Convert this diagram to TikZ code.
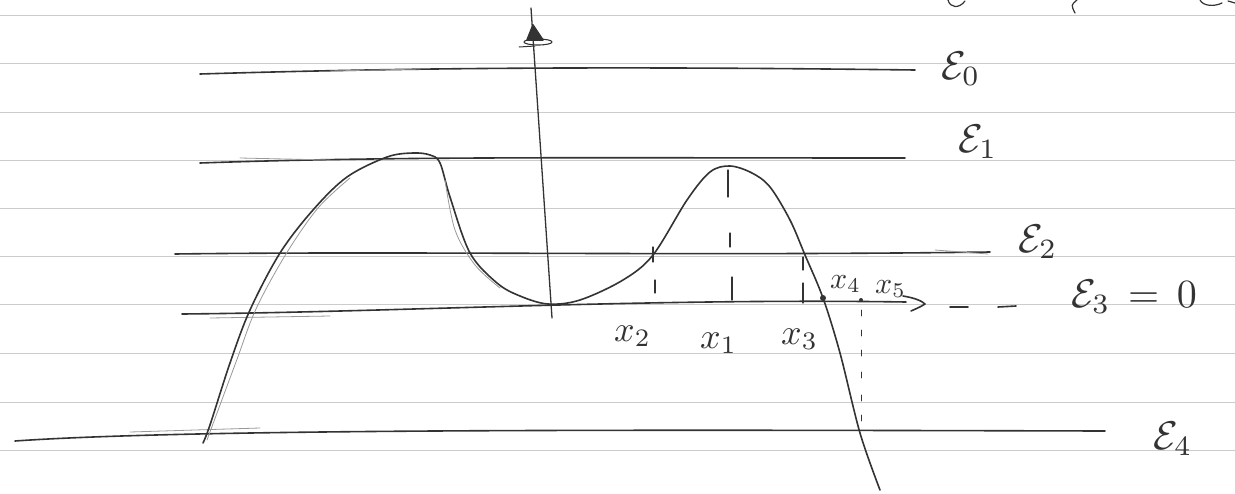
\documentclass[tikz,border=0pt]{standalone}
\usepackage{graphicx}
\definecolor{pen}{HTML}{333333}
\definecolor{rulegray}{HTML}{CCCCCC}
\newcommand{\bigtxt}[2]{\scalebox{#1}{#2}}
\begin{document}
\begin{tikzpicture}[x=1pt,y=-1pt,
  pencil/.style={draw=pen, line width=1.6pt, line cap=round, line join=round},
  faint/.style={draw=pen!50, line width=0.8pt, line cap=round},
  ruled/.style={draw=rulegray, line width=0.8pt},
  tickmark/.style={draw=pen, line width=1.2pt, line cap=round},
  lbl/.style={inner sep=0pt, anchor=base west, text=pen},
  dotmark/.style={circle, fill=pen, inner sep=0pt, minimum size=6pt}]
\useasboundingbox (0,0) rectangle (1235,493);
\fill[white] (0,0) rectangle (1235,493);
% ruled paper
\foreach \y in {15,63,112,160,208,256,304,353,402,450} \draw[ruled] (0,\y) -- (1235,\y);
% cut-off writing at the top edge
\draw[pencil,line width=1.2pt] (948,0) .. controls (950,8) and (959,9) .. (965,1);
\draw[pencil,line width=1.2pt] (1077,0) .. controls (1071,5) .. (1075,13);
\draw[pencil,line width=1.2pt] (1200,0) .. controls (1203,6) and (1214,7) .. (1222,3);
\draw[pencil,line width=1.2pt] (1228,1) -- (1235,3);

% energy levels
\coordinate (e0l) at (200,74); \coordinate (e0r) at (915,70);
\coordinate (e1l) at (200,163); \coordinate (e1r) at (905,158);
\coordinate (e2l) at (175,254); \coordinate (e2r) at (990,252);
\coordinate (e3l) at (182,314); \coordinate (e3r) at (906,302);
\coordinate (e4l) at (15,441); \coordinate (e4r) at (1105,431);
\draw[pencil] (e0l) .. controls (400,68) and (600,66) .. (e0r);
\draw[pencil] (e1l) .. controls (400,156) and (600,158) .. (e1r);
\draw[pencil] (e2l) .. controls (400,251) and (700,256) .. (e2r);
\draw[pencil] (e3l) .. controls (400,312) and (650,298) .. (e3r);
\draw[pencil] (e4l) .. controls (200,428) and (700,430) .. (e4r);
% doubled pencil strokes
\draw[faint] (330,71) -- (420,69);
\draw[faint] (240,158) -- (330,160);
\draw[faint] (935,250) -- (988,254);
\draw[faint] (210,318) -- (330,316);
\draw[faint] (130,432) -- (260,428);
% arrow hook and dashes after E3
\draw[pencil] (903,296) .. controls (915,298) and (922,301) .. (925,304) .. controls (920,307) .. (911,311);
\draw[pencil] (950,307) -- (968,307);
\draw[pencil] (998,307) -- (1016,306);

% vertical axis with arrow
\coordinate (axb) at (552,318); \coordinate (axt) at (531,8);
\draw[pencil,line width=1.3pt] (axb) -- (axt);
\draw[pencil,fill=pen] (533,25) -- (527,40) -- (543,40) -- cycle;
\draw[pencil,line width=1.1pt] (538,42) ellipse [x radius=14, y radius=3];
\draw[pencil,line width=1pt] (519,47) -- (535,46);

% potential curve
\draw[pencil] plot[smooth, tension=0.55] coordinates {
 (203,443) (210,425) (230,363) (250,310) (280,253) (313,210) (347,177)
 (387,157) (413,153) (430,155) (440,163) (450,197) (470,253) (497,283)
 (520,296) (548,304) (580,300) (623,280) (653,255) (687,200) (710,172)
 (730,166) (752,173) (770,187) (790,220) (805,255) (823,298) (840,353)
 (860,433) (880,490)};
\draw[faint] plot[smooth, tension=0.55] coordinates {
 (207,440) (236,362) (256,309) (286,254) (318,208) (350,178)};
\draw[faint] plot[smooth, tension=0.55] coordinates {
 (445,180) (455,230) (475,265) (500,288)};

% x-tick marks
\draw[tickmark] (653,247) -- (653,262);
\draw[tickmark] (655,280) -- (655,293);
\draw[tickmark] (728,170) -- (728,197);
\draw[tickmark] (730,233) -- (730,247);
\draw[tickmark] (732,277) -- (732,300);
\draw[tickmark] (803,257) -- (803,270);
\draw[tickmark] (803,283) -- (803,303);
\foreach \y in {310,330,350,372,395,415} \draw[tickmark,line width=0.9pt] (861,\y) -- (861,\y+6);
\node[dotmark] (d4) at (823,298) {};
\node[dotmark, minimum size=4pt] (d5) at (861,300) {};

% labels
\node[lbl] (E0) at (941,79) {\bigtxt{4}{$\mathcal{E}_0$}};
\node[lbl] (E1) at (958,152) {\bigtxt{4}{$\mathcal{E}_1$}};
\node[lbl] (E2) at (1018,252) {\bigtxt{4}{$\mathcal{E}_2$}};
\node[lbl] (E3) at (1071,307) {\bigtxt{4}{$\mathcal{E}_3\,=\,0$}};
\node[lbl] (E4) at (1153,449) {\bigtxt{4}{$\mathcal{E}_4$}};
\node[lbl] (x2) at (614,341) {\bigtxt{3.6}{$x_2$}};
\node[lbl] (x1) at (700,348) {\bigtxt{3.6}{$x_1$}};
\node[lbl] (x3) at (781,344) {\bigtxt{3.6}{$x_3$}};
\node[lbl] (x4) at (830,288) {\bigtxt{3}{$x_4$}};
\node[lbl] (x5) at (875,293) {\bigtxt{3}{$x_5$}};
\end{tikzpicture}
\end{document}
